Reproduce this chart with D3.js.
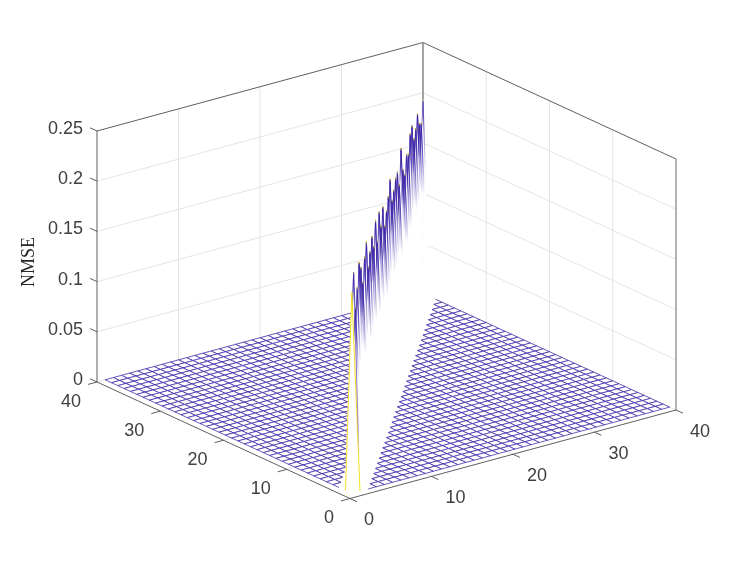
<!DOCTYPE html>
<html>
<head>
<meta charset="utf-8">
<script src="https://cdn.jsdelivr.net/npm/d3@7"></script>
<style>
  html, body { margin: 0; padding: 0; background: #fff; }
  svg { display: block; filter: blur(0.35px); }
  text { font-family: "Liberation Sans", Arial, sans-serif; font-size: 18px; fill: #404040; }
</style>
</head>
<body>
<div id="chart"></div>
<script>
// tick values and labels
var xTicks = [0, 10, 20, 30, 40];
var yTicks = [0, 10, 20, 30, 40];
var zTicks = [0, 0.05, 0.1, 0.15, 0.2, 0.25];
var zLabels = ['0', '0.05', '0.1', '0.15', '0.2', '0.25'];

// grid indexes of the mesh, 1 to 40 on both sides
var gridIdx = d3.range(1, 41);

var ridgeValues = [
  0.200, 0.215, 0.175, 0.190, 0.210, 0.200, 0.180, 0.200, 0.210, 0.180,
  0.190, 0.200, 0.185, 0.206, 0.180, 0.204, 0.185, 0.199, 0.175, 0.185,
  0.194, 0.206, 0.180, 0.185, 0.192, 0.193, 0.175, 0.206, 0.180, 0.170,
  0.185, 0.180, 0.195, 0.198, 0.180, 0.185, 0.195, 0.180, 0.175, 0.193
];

var svgWidth = 747, svgHeight = 561;
var svg = d3.select('#chart').append('svg').attr('width', svgWidth).attr('height', svgHeight);

// the 3d view is just linear, each data axis moves the pen in screen x and y
var originX = 350, originY = 498.5;
var xToPx = d3.scaleLinear().domain([0, 40]).range([0, 326]);
var xToPy = d3.scaleLinear().domain([0, 40]).range([0, -88.5]);
var yToPx = d3.scaleLinear().domain([0, 40]).range([0, -253]);
var yToPy = d3.scaleLinear().domain([0, 40]).range([0, -116.5]);
var zToPy = d3.scaleLinear().domain([0, 0.25]).range([0, -251]);

function project(x, y, z) {
  return [originX + xToPx(x) + yToPx(y), originY + xToPy(x) + yToPy(y) + zToPy(z)];
}

function zAt(i, j) {
  return i === j ? ridgeValues[i - 1] : 0;
}

function node(i, j) {
  return project(i, j, zAt(i, j));
}

var meshBlue = '#3e26a8';
var meshYellow = '#f5e020';

var lineGen = d3.line();

function seg(a, b) {
  return lineGen([a, b]);
}

// spikes fade out going down, bbox gradient since they all have about the same height
var defs = svg.append('defs');
function addFade(id, stops) {
  var grad = defs.append('linearGradient').attr('id', id)
    .attr('x1', 0).attr('y1', 0).attr('x2', 0).attr('y2', 1);
  stops.forEach(function(s) {
    grad.append('stop').attr('offset', s[0]).attr('stop-color', s[1]).attr('stop-opacity', s[2]);
  });
}
addFade('spikeFade', [[0, meshYellow, 0.9], [0.015, meshBlue, 1], [0.14, meshBlue, 0.8], [0.24, meshBlue, 0.4], [0.4, meshBlue, 0]]);
addFade('backFade', [[0, meshBlue, 1], [0.1, meshBlue, 0.7], [0.2, meshBlue, 0]]);
addFade('nearFade', [[0, meshBlue, 0.3], [0.35, meshBlue, 0.7], [0.7, meshBlue, 0.5], [0.85, meshBlue, 0]]);

// back walls and floor grid
var gridGroup = svg.append('g').attr('fill', 'none').attr('stroke', '#e4e4e4').attr('stroke-width', 1);
zTicks.slice(1, -1).concat([0]).forEach(function(z) {
  gridGroup.append('path').attr('d', seg(project(0, 40, z), project(40, 40, z)));
  gridGroup.append('path').attr('d', seg(project(40, 40, z), project(40, 0, z)));
});
xTicks.slice(1, -1).forEach(function(x) {
  gridGroup.append('path').attr('d', seg(project(x, 40, 0), project(x, 40, 0.25)));
  gridGroup.append('path').attr('d', seg(project(x, 0, 0), project(x, 40, 0)));
});
yTicks.slice(1, -1).forEach(function(y) {
  gridGroup.append('path').attr('d', seg(project(40, y, 0), project(40, y, 0.25)));
  gridGroup.append('path').attr('d', seg(project(0, y, 0), project(40, y, 0)));
});

// box lines that sit behind the mesh
var boxColor = '#4d4d4d';
var backBox = svg.append('g').attr('fill', 'none').attr('stroke', boxColor).attr('stroke-width', 0.9);
backBox.append('path').attr('d', seg(project(0, 40, 0.25), project(40, 40, 0.25)));
backBox.append('path').attr('d', seg(project(40, 40, 0.25), project(40, 0, 0.25)));
backBox.append('path').attr('d', seg(project(0, 40, 0), project(0, 40, 0.25)));
// these two came out thicker and lighter in the picture
backBox.append('path').attr('stroke', '#9a9a9a').attr('stroke-width', 1.8)
  .attr('d', seg(project(40, 40, 0), project(40, 40, 0.25)));
backBox.append('path').attr('stroke', '#9a9a9a').attr('stroke-width', 1.5)
  .attr('d', seg(project(40, 0, 0), project(40, 0, 0.25)));

// mesh cells, far corner first so white faces hide what is behind (poor mans hidden line)
var cells = [];
gridIdx.slice(0, -1).forEach(function(i) {
  gridIdx.slice(0, -1).forEach(function(j) {
    cells.push({i: i, j: j});
  });
});
cells.sort(function(a, b) { return (b.i + b.j) - (a.i + a.j); });

// edges that touch the ridge or the row next to it are not plain floor lines
function floorEdge(i1, j1, i2, j2) {
  return Math.abs(i1 - j1) > 1 && Math.abs(i2 - j2) > 1;
}

var meshGroup = svg.append('g').attr('stroke-width', 0.75).attr('fill', 'none').attr('stroke', meshBlue);
var cell = meshGroup.selectAll('g').data(cells).enter().append('g');

cell.append('path')
  .attr('fill', '#fff')
  // white outline on the ridge faces closes the seams between them
  .attr('stroke', function(d) { return Math.abs(d.i - d.j) <= 1 ? '#fff' : 'none'; })
  .attr('stroke-width', 0.8)
  .attr('d', function(d) {
    var a = node(d.i, d.j), b = node(d.i + 1, d.j), c = node(d.i + 1, d.j + 1), e = node(d.i, d.j + 1);
    // diagonal cells are a tent, split along the top
    if (d.i === d.j) return lineGen([a, b, c]) + 'Z' + lineGen([a, c, e]) + 'Z';
    return lineGen([a, b, c, e]) + 'Z';
  });

cell.each(function(d) {
  var g = d3.select(this);
  var edges = [
    [d.i, d.j, d.i + 1, d.j],
    [d.i, d.j, d.i, d.j + 1],
    [d.i + 1, d.j, d.i + 1, d.j + 1],
    [d.i, d.j + 1, d.i + 1, d.j + 1]
  ];
  edges.forEach(function(e) {
    if (floorEdge(e[0], e[1], e[2], e[3])) {
      g.append('path').attr('d', seg(node(e[0], e[1]), node(e[2], e[3])));
    }
  });
});

// ridge spikes, all four edges of every diagonal node. the far side ones only show near the tip
var spikeGroup = svg.append('g').attr('fill', 'none').attr('stroke-width', 0.9);
var spikeIdx = gridIdx.slice().reverse();
spikeGroup.selectAll('path.far1').data(spikeIdx.filter(function(k) { return k > 1 && k < 40; })).enter().append('path')
  .attr('class', 'far1')
  .attr('stroke', 'url(#backFade)')
  .attr('d', function(k) { return seg(node(k, k), node(k, k + 1)); });
spikeGroup.selectAll('path.far2').data(spikeIdx.filter(function(k) { return k > 1; })).enter().append('path')
  .attr('class', 'far2')
  .attr('stroke', 'url(#backFade)')
  .attr('d', function(k) { return seg(node(k, k), node(k - 1, k)); });
spikeGroup.selectAll('path.right').data(spikeIdx.filter(function(k) { return k > 1 && k < 40; })).enter().append('path')
  .attr('class', 'right')
  .attr('stroke', 'url(#spikeFade)')
  .attr('d', function(k) { return seg(node(k, k), node(k + 1, k)); });
spikeGroup.selectAll('path.left').data(spikeIdx.filter(function(k) { return k > 2; })).enter().append('path')
  .attr('class', 'left')
  .attr('stroke', 'url(#spikeFade)')
  .attr('d', function(k) { return seg(node(k, k), node(k, k - 1)); });

// the nearest node is not covered by anything so its edges show all the way down
var nearGroup = svg.append('g').attr('fill', 'none').attr('stroke-width', 1);
nearGroup.append('path').attr('stroke', meshYellow).attr('d', seg(node(1, 1), node(2, 1)));
nearGroup.append('path').attr('stroke', meshYellow).attr('d', seg(node(1, 1), node(1, 2)));
nearGroup.append('path').attr('stroke', 'url(#nearFade)').attr('d', seg(node(2, 2), node(2, 1)));

// front axis lines and ticks
var axisGroup = svg.append('g').attr('fill', 'none').attr('stroke', boxColor).attr('stroke-width', 0.9);
axisGroup.append('path').attr('d', seg(project(0, 0, 0), project(40, 0, 0)));
axisGroup.append('path').attr('d', seg(project(0, 0, 0), project(0, 40, 0)));
xTicks.forEach(function(x) {
  axisGroup.append('path').attr('d', seg(project(x, 0, 0), project(x, -1.1, 0)));
});
yTicks.forEach(function(y) {
  axisGroup.append('path').attr('d', seg(project(0, y, 0), project(-1.1, y, 0)));
});
zTicks.forEach(function(z) {
  axisGroup.append('path').attr('d', seg(project(0, 40, z), project(0, 41.1, z)));
});

// tick labels
svg.append('g').selectAll('text').data(xTicks).enter().append('text')
  .attr('x', function(d) { return project(d, 0, 0)[0] + 14; })
  .attr('y', function(d) { return project(d, 0, 0)[1] + 26.5; })
  .text(function(d) { return d; });

svg.append('g').selectAll('text').data(yTicks).enter().append('text')
  .attr('text-anchor', 'end')
  .attr('x', function(d) { return project(0, d, 0)[0] - 16; })
  .attr('y', function(d) { return project(0, d, 0)[1] + 24.5; })
  .text(function(d) { return d; });

svg.append('g').selectAll('text').data(zTicks).enter().append('text')
  .attr('text-anchor', 'end')
  .attr('x', function(d) { return project(0, 40, d)[0] - 14; })
  .attr('y', function(d) { return project(0, 40, d)[1] + 3; })
  .text(function(d, i) { return zLabels[i]; });

// axis title
svg.append('text')
  .attr('transform', 'translate(34,262) rotate(-90)')
  .attr('text-anchor', 'middle')
  .style('font-family', '"Liberation Serif", "Times New Roman", serif')
  .style('fill', '#262626')
  .text('NMSE');
</script>
</body>
</html>
